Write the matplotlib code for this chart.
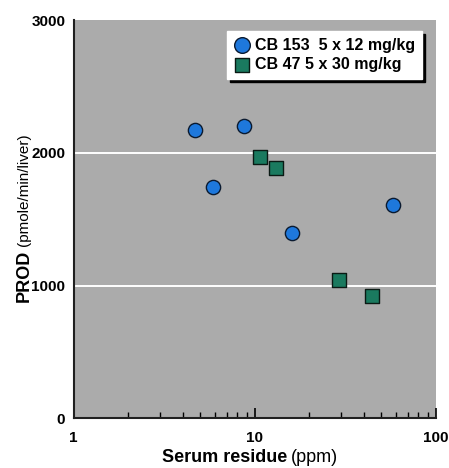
import matplotlib
matplotlib.use("Agg")
import matplotlib.pyplot as plt
from matplotlib.ticker import FixedLocator, LogLocator, NullFormatter

plt.rcParams['font.family'] = ['Liberation Sans Narrow', 'Liberation Sans', 'DejaVu Sans']

# Data
cb153_x = [4.7, 8.7, 5.9, 16.1, 57.6]
cb153_y = [2170, 2205, 1745, 1400, 1605]
cb47_x = [10.7, 13.1, 29.0, 44.1]
cb47_y = [1970, 1885, 1040, 925]
x_ticks = [1, 10, 100]
y_ticks = [0, 1000, 2000, 3000]
grid_levels = [1000, 2000]

fig = plt.figure(figsize=(4.49, 4.68), dpi=100)
ax = fig.add_axes([0.164, 0.106, 0.807, 0.851])
ax.set_facecolor('#ababab')

ax.set_xscale('log')
ax.set_xlim(1, 100)
ax.set_ylim(0, 3000)

for g in grid_levels:
    ax.axhline(g, color='white', lw=1.4, zorder=1)

ax.scatter(cb153_x, cb153_y, s=105, marker='o', color='#1e78dc',
           edgecolor='#0a1a30', linewidth=1.0, zorder=3, label='CB 153  5 x 12 mg/kg')
ax.scatter(cb47_x, cb47_y, s=95, marker='s', color='#1a7a5f',
           edgecolor='#0a1a14', linewidth=1.0, zorder=3, label='CB 47 5 x 30 mg/kg')

# Spines: only left and bottom
for side in ['top', 'right']:
    ax.spines[side].set_visible(False)
ax.spines['left'].set_linewidth(1.5)
ax.spines['bottom'].set_linewidth(1.5)
ax.spines['left'].set_color('#202020')
ax.spines['bottom'].set_color('#202020')

ax.xaxis.set_major_locator(FixedLocator(x_ticks))
ax.set_xticklabels([str(t) for t in x_ticks])
ax.xaxis.set_minor_locator(LogLocator(base=10, subs=range(2, 10)))
ax.xaxis.set_minor_formatter(NullFormatter())
ax.tick_params(axis='x', which='major', direction='in', length=7, width=1.2,
               labelsize=11, pad=9)
ax.tick_params(axis='x', which='minor', direction='in', length=4, width=1.0)
for lbl in ax.get_xticklabels():
    lbl.set_fontweight('bold')

ax.set_yticks(y_ticks)
ax.set_yticklabels([str(t) for t in y_ticks])
ax.tick_params(axis='y', which='both', length=0, labelsize=11, pad=6)
for lbl in ax.get_yticklabels():
    lbl.set_fontweight('bold')

leg = ax.legend(loc='upper right', bbox_to_anchor=(0.97, 0.98), frameon=True,
                fancybox=False, shadow={'color': 'black', 'alpha': 1.0},
                fontsize=11.5, handletextpad=0.35, borderpad=0.4,
                handlelength=1.0, labelspacing=0.3, borderaxespad=0.2,
                markerscale=1.1)
leg.get_frame().set_edgecolor('white')
leg.get_frame().set_facecolor('white')
leg.get_frame().set_alpha(1.0)
for t in leg.get_texts():
    t.set_fontweight('bold')

# Mixed-weight axis labels
fig.canvas.draw()
renderer = fig.canvas.get_renderer()

xl1 = fig.text(0.36, 0.004, 'Serum residue', fontsize=13, fontweight='bold',
               ha='left', va='bottom')
fig.canvas.draw()
bb = xl1.get_window_extent(renderer)
fig.text((bb.x1 + 4) / fig.bbox.width, 0.004, '(ppm)', fontsize=13,
         ha='left', va='bottom')

yl1 = fig.text(0.035, 0.355, 'PROD', fontsize=13, fontweight='bold',
               rotation=90, ha='left', va='bottom')
fig.canvas.draw()
bb = yl1.get_window_extent(renderer)
fig.text(0.038, (bb.y1 + 4) / fig.bbox.height, '(pmole/min/liver)', fontsize=11,
         rotation=90, ha='left', va='bottom')

fig.savefig('out.png', dpi=100)
